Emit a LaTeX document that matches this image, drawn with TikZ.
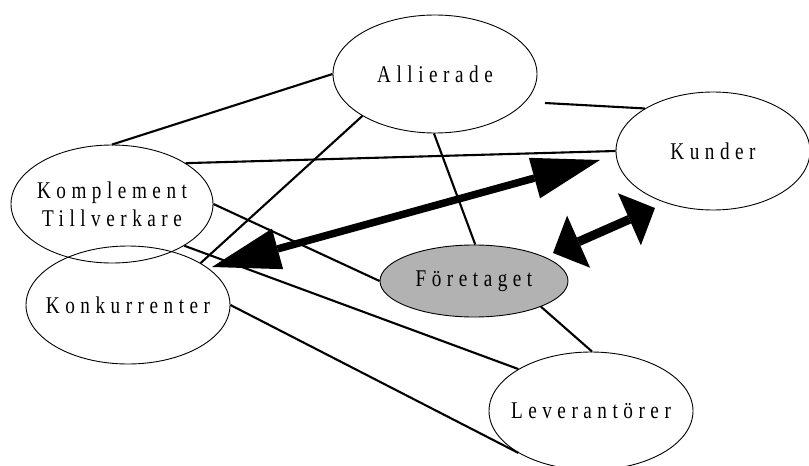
\documentclass[tikz,border=0pt]{standalone}
\usepackage{fontspec}
\setmainfont{Liberation Serif}[FakeStretch=0.8,LetterSpace=23]
\usetikzlibrary{shapes.geometric,arrows.meta}

% zero-width box so the label never widens its ellipse
\newcommand\zw[1]{\makebox[0pt]{#1}}

\begin{document}
\begin{tikzpicture}[x=1pt,y=-1pt,
  party/.style={ellipse,draw,line width=0.9pt,inner sep=0pt,
    minimum width=204pt,minimum height=118pt,
    font=\fontsize{24}{28}\selectfont,align=center},
  link/.style={line width=2.1pt},
  bigflow/.style={line width=7.5pt,
    {Triangle[length=68pt,width=42pt,line width=0pt]}-{Triangle[length=68pt,width=42pt,line width=0pt]}},
  smallflow/.style={line width=9pt,
    {Triangle[length=28pt,width=57pt,line width=0pt]}-{Triangle[length=28pt,width=57pt,line width=0pt]}},
]
\useasboundingbox (0,0) rectangle (809,466);

% actors
\node[party] (all) at (435,74) {\zw{Allierade}};
\node[party,minimum width=194pt] (kun) at (713,151) {\zw{Kunder}};
\node[party,minimum width=202pt] (kom) at (112,204) {\zw{Komplement}\\\zw{Tillverkare}};
\node[party] (kon) at (128,305) {\zw{Konkurrenter}};
\node[party] (lev) at (591,411) {\zw{Leverantörer}};
\node[party,fill=gray!60,minimum width=188pt,minimum height=72pt] (for) at (474,281) {\zw{Företaget}};

% relations
\coordinate (allR) at (545,103);
\draw[link] (all.180) -- (kom.90);
\draw[link] (all.210) -- (kon.30);
\draw[link] (all.269) -- (for.88);
\draw[link] (allR) -- (kun.148);
\draw[link] (kom.29) -- (kun.180);
\draw[link] (kom.0) -- (for.180);
\draw[link] (kom.330) -- (lev.150);
\draw[link] (kon.0) -- (lev.210);
\draw[link] (for.339) -- (lev.89);

% flows
\coordinate (bigL) at (212,267);
\coordinate (bigR) at (600,160);
\draw[bigflow] (bigL) -- (bigR);
\coordinate (smL) at (553,253);
\coordinate (smR) at (655,208);
\draw[smallflow] (smL) -- (smR);
\end{tikzpicture}
\end{document}
